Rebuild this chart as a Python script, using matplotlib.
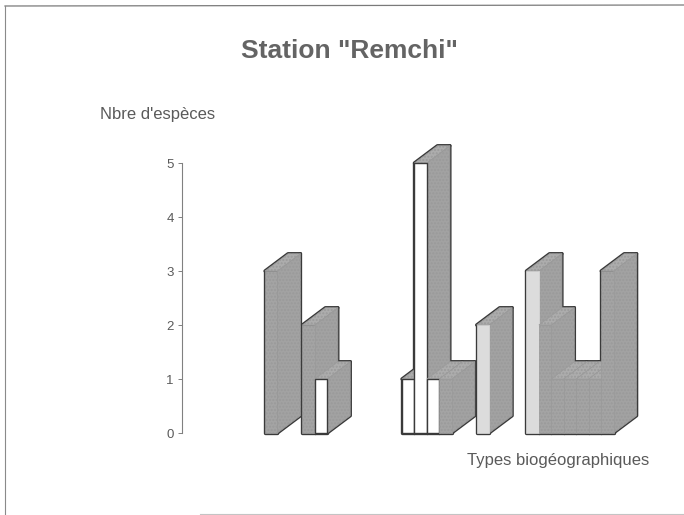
import matplotlib
matplotlib.use("Agg")
import matplotlib.pyplot as plt
from matplotlib.lines import Line2D
from matplotlib.patches import Polygon

plt.rcParams['font.family'] = ['Liberation Sans', 'DejaVu Sans']

W, H = 684, 515

# Number of species per biogeographic type, one entry per bar slot
slots = [0, 3, 4, 11, 12, 13, 14, 17, 21, 22, 23, 24, 25, 26, 27]
values = [3, 2, 1, 1, 5, 1, 1, 2, 3, 2, 1, 1, 1, 1, 3]
front_faces = ['g', 'g', 'w', 'w', 'w', 'w', 'g', 'l', 'l', 'g', 'g', 'g', 'g', 'g', 'g']
yticks = [0, 1, 2, 3, 4, 5]

slot_px = 12.45
depth_x = 1.85    # receding offset of the 3D box, in slots
depth_y = 0.32    # receding offset of the 3D box, in species
bar_w = 1.0

FRONT = {'g': '#a4a4a4', 'w': '#ffffff', 'l': '#dcdcdc'}
SIDE = '#a2a2a2'
TOP = '#adadad'
EDGE = '#3a3a3a'
GRAIN = '#9a9a9a'
TEXT = '#5a5a5a'

fig = plt.figure(figsize=(W / 100, H / 100), dpi=100, facecolor='white')

# Axes box runs from the value axis to the right margin, y = 0..5 on the tick span
ax_l, ax_r, ax_t, ax_b = 182, 660, 163, 433
ax = fig.add_axes([ax_l / W, 1 - ax_b / H, (ax_r - ax_l) / W, (ax_b - ax_t) / H])
ax.set_xlim((ax_l - 265) / slot_px, (ax_r - 265) / slot_px)
ax.set_ylim(0, 5)
ax.patch.set_alpha(0)


def box_faces(s, v):
    x0, x1 = s, s + bar_w
    side = [(x1, 0), (x1 + depth_x, depth_y), (x1 + depth_x, v + depth_y), (x1, v)]
    top = [(x0, v), (x0 + depth_x, v + depth_y), (x1 + depth_x, v + depth_y), (x1, v)]
    front = [(x0, 0), (x1, 0), (x1, v), (x0, v)]
    return front, side, top


# A heavy underlay leaves a dark outline only around the merged silhouette of touching bars
for s, v in zip(slots, values):
    for face in box_faces(s, v):
        ax.add_patch(Polygon(face, closed=True, fc=EDGE, ec=EDGE, lw=2.4, joinstyle='round',
                             clip_on=False, zorder=2))

# Grainy grey fills go on top, left to right so each box hides its neighbour's side
for i, (s, v, f) in enumerate(zip(slots, values, front_faces)):
    front, side, top = box_faces(s, v)
    z = 3 + i * 0.01
    ax.add_patch(Polygon(side, closed=True, fc=SIDE, ec=GRAIN, hatch='.....',
                         lw=0.5, clip_on=False, zorder=z))
    ax.add_patch(Polygon(top, closed=True, fc=TOP, ec=GRAIN, hatch='.....',
                         lw=0.5, clip_on=False, zorder=z))
    if f == 'g':
        ax.bar(s, v, width=bar_w, align='edge', color=FRONT[f], edgecolor=GRAIN,
               hatch='.....', lw=0.5, clip_on=False, zorder=z)
    elif f == 'l':
        ax.bar(s, v, width=bar_w, align='edge', color=FRONT[f], edgecolor=FRONT[f],
               lw=0.5, clip_on=False, zorder=z)
    else:
        ax.bar(s, v, width=bar_w, align='edge', color=FRONT[f], edgecolor=EDGE,
               lw=1.0, clip_on=False, zorder=z)

ax.set_yticks(yticks)
ax.set_xticks([])
for name in ('top', 'right', 'bottom'):
    ax.spines[name].set_visible(False)
ax.spines['left'].set_color('#808080')
ax.spines['left'].set_linewidth(0.8)
ax.tick_params(axis='y', length=3, width=0.7, color='#808080', labelcolor=TEXT,
               labelsize=9.5, pad=3)

fig.text(349 / W, 1 - 51 / H, 'Station "Remchi"', ha='center', va='center',
         fontsize=19, fontweight='bold', color='#646464')
fig.text(158 / W, 1 - 115 / H, "Nbre d'espèces", ha='center', va='center',
         fontsize=12, color=TEXT)
fig.text(558 / W, 1 - 460 / H, 'Types biogéographiques', ha='center', va='center',
         fontsize=12, color=TEXT)

# Thin frame around the page, open on the right
fig.add_artist(Line2D([5 / W, 1], [1 - 6 / H, 1 - 5 / H], color='#7a7a7a', lw=0.9))
fig.add_artist(Line2D([5 / W, 5 / W], [0, 1 - 6 / H], color='#8a8a8a', lw=0.8))
fig.add_artist(Line2D([200 / W, 1], [1 / H, 1 / H], color='#c4c4c4', lw=0.8))

fig.savefig('out.png', dpi=100, facecolor='white')
